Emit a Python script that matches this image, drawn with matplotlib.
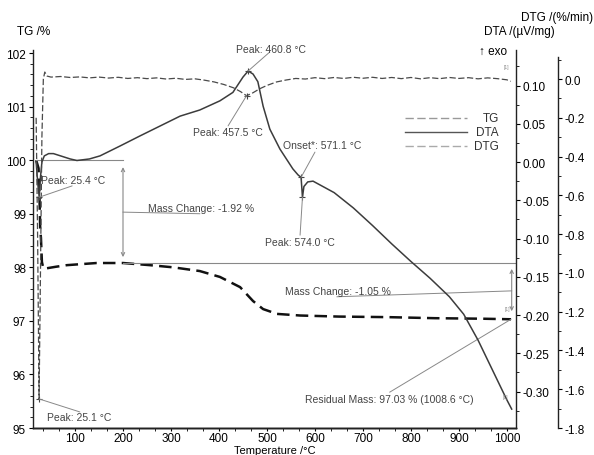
import numpy as np
import matplotlib
matplotlib.use("Agg")
import matplotlib.pyplot as plt
from matplotlib.ticker import MultipleLocator, AutoMinorLocator, FormatStrFormatter
from matplotlib.lines import Line2D

plt.rcParams['font.family'] = ['Liberation Sans', 'DejaVu Sans']
plt.rcParams['axes.unicode_minus'] = False

# TG (mass %) vs temperature
tg_t = [19, 24, 26, 27.5, 29, 31, 34, 40, 60, 83, 145, 200, 256, 304, 360, 402, 444,
        471, 492, 521, 569, 650, 750, 850, 950, 1008.6]
tg_v = [100.0, 99.85, 99.3, 98.7, 98.55, 98.1, 97.98, 97.98, 98.01, 98.04, 98.08, 98.08,
        98.04, 98.0, 97.93, 97.82, 97.63, 97.37, 97.22, 97.13, 97.10, 97.08, 97.07,
        97.05, 97.04, 97.03]

# DTA (uV/mg)
dta_t = [19, 22, 25.4, 28, 31, 36, 45, 55, 70, 90, 104, 130, 152, 194, 235, 277, 319,
         360, 402, 429, 450, 460.8, 471, 481, 492, 506, 527, 554, 565, 571.1, 574, 577,
         585, 596, 640, 680, 720, 760, 800, 840, 880, 910, 940, 970, 1000, 1010]
dta_v = [0.000, -0.025, -0.046, -0.020, 0.000, 0.008, 0.011, 0.011, 0.008, 0.004, 0.002,
         0.004, 0.008, 0.021, 0.034, 0.047, 0.060, 0.068, 0.080, 0.091, 0.111, 0.119,
         0.115, 0.105, 0.073, 0.043, 0.017, -0.009, -0.017, -0.020, -0.046, -0.032,
         -0.026, -0.025, -0.040, -0.060, -0.083, -0.107, -0.130, -0.152, -0.176, -0.199,
         -0.233, -0.272, -0.311, -0.323]

# DTG (%/min)
dtg_t = [19, 22, 25.1, 28, 31, 34, 37, 42, 50, 70, 90, 110, 130, 150, 170, 190, 210, 230,
         250, 270, 290, 310, 330, 350, 370, 390, 410, 430, 445, 457.5, 470, 485, 500, 520,
         540, 560, 580, 600, 620, 640, 660, 680, 700, 720, 740, 760, 780, 800, 820, 840,
         860, 880, 900, 920, 940, 960, 980, 1000, 1008]
dtg_v = [-0.20, -0.80, -1.65, -1.00, -0.30, 0.00, 0.036, 0.015, 0.010, 0.013, 0.008, 0.011,
         0.006, 0.010, 0.005, 0.009, 0.003, 0.007, 0.002, 0.006, 0.000, 0.004, -0.002,
         0.001, -0.006, -0.015, -0.028, -0.045, -0.065, -0.086, -0.072, -0.050, -0.033,
         -0.015, -0.005, 0.003, 0.000, 0.007, 0.002, 0.008, 0.003, 0.009, 0.004, 0.009,
         0.003, 0.008, 0.002, 0.008, 0.001, 0.007, 0.002, 0.008, 0.003, 0.007, 0.001,
         0.006, 0.002, -0.004, -0.012]

mass_start = 100.0
mass_step1 = 98.08
step1_t = 200
step2_t = 1010
residual = 97.03
residual_t = 1008.6

light = "#888888"

fig = plt.figure(figsize=(5.94, 4.56), dpi=100)
ax = fig.add_axes([0.0556, 0.0592, 0.8131, 0.8289])
ax2 = ax.twinx()
ax3 = ax.twinx()

ax.plot(tg_t, tg_v, color="#111111", lw=1.8, ls=(0, (5, 2.5)))
ax2.plot(dta_t, dta_v, color="#3c3c3c", lw=1.1)
ax3.plot(dtg_t, dtg_v, color="#4a4a4a", lw=0.9, ls=(0, (5, 2)))

ax.set_xlim(12.5, 1019)
ax.set_ylim(95, 102.056)
ax2.set_ylim(-0.3477, 0.1464)
ax3.set_ylim(-1.8, 0.1496)

for a in (ax, ax2, ax3):
    a.spines['top'].set_visible(False)
    for s in a.spines.values():
        s.set_linewidth(1.0)
        s.set_color("#222222")
ax2.spines['left'].set_visible(False)
ax3.spines['left'].set_visible(False)
ax.spines['right'].set_visible(False)
ax3.spines['right'].set_position(('outward', 30.2))
ax3.spines['right'].set_bounds(-1.8, 0.113)

ax.xaxis.set_major_locator(MultipleLocator(100))
ax.xaxis.set_minor_locator(AutoMinorLocator(3))
ax.yaxis.set_major_locator(MultipleLocator(1))
ax.yaxis.set_minor_locator(AutoMinorLocator(5))
ax2.yaxis.set_major_locator(MultipleLocator(0.05))
ax2.yaxis.set_minor_locator(AutoMinorLocator(2))
ax2.yaxis.set_major_formatter(FormatStrFormatter('%.2f'))
ax3.yaxis.set_major_locator(MultipleLocator(0.2))
ax3.yaxis.set_minor_locator(AutoMinorLocator(2))
ax3.yaxis.set_major_formatter(FormatStrFormatter('%.1f'))

ax.tick_params(axis='both', which='major', direction='out', length=3, labelsize=8.5, pad=2)
ax.tick_params(axis='x', which='major', length=2.5, pad=0.5)
ax.tick_params(axis='both', which='minor', direction='out', length=2)
for a in (ax2, ax3):
    a.tick_params(axis='y', which='major', direction='out', length=3, labelsize=8.5, pad=2)
    a.tick_params(axis='y', which='minor', direction='out', length=2)

fig.text(0.0286, 0.93, "TG /%", fontsize=8.5, va='center')
fig.text(0.815, 0.93, "DTA /(\u00b5V/mg)", fontsize=8.5, va='center')
fig.text(0.998, 0.96, "DTG /(%/min)", fontsize=8.5, va='center', ha='right')
fig.text(0.854, 0.886, "\u2191 exo", fontsize=8.5, va='center', ha='right')
fig.text(0.463, 0.0, "Temperature /\u00b0C", fontsize=8, ha='center', va='bottom')

# legend drawn by hand so the labels are right aligned
leg = [("TG", "#999999", (0, (6, 2.5))), ("DTA", "#555555", '-'), ("DTG", "#aaaaaa", (0, (6, 2.5)))]
for i, (name, c, ls) in enumerate(leg):
    yy = 0.820 - i * 0.037
    ax3.add_line(Line2D([0.770, 0.899], [yy, yy], transform=ax3.transAxes, color=c, ls=ls, lw=1.0))
    ax3.text(0.965, yy, name, transform=ax3.transAxes, ha='right', va='center', fontsize=8.5, color="#333333")


def lead(src, x, y, tx, ty):
    ax3.annotate("", xy=(x, y), xycoords=src.transData, xytext=(tx, ty), textcoords=ax.transData,
                 arrowprops=dict(arrowstyle='-', color=light, lw=0.7, shrinkA=0, shrinkB=0))


def mark(src, x, y):
    src.plot([x], [y], marker='+', color="#444444", ms=5, mew=0.8)


def note(x, y, s):
    ax3.text(x, y, s, transform=ax.transData, fontsize=7.5, color="#444444", va='center')


# DTA peaks / onset
p1 = 460.8
mark(ax2, p1, np.interp(p1, dta_t, dta_v))
lead(ax2, p1, np.interp(p1, dta_t, dta_v), 506, 102.02)
note(435, 102.07, "Peak: 460.8 \u00b0C")

p2 = 25.4
mark(ax2, p2, np.interp(p2, dta_t, dta_v))
lead(ax2, p2, np.interp(p2, dta_t, dta_v), 94, 99.52)
note(29, 99.63, "Peak: 25.4 \u00b0C")

p3 = 571.1
mark(ax2, p3, np.interp(p3, dta_t, dta_v))
lead(ax2, p3, np.interp(p3, dta_t, dta_v), 600, 100.15)
note(533, 100.28, "Onset*: 571.1 \u00b0C")

p4 = 574.0
mark(ax2, p4, np.interp(p4, dta_t, dta_v))
lead(ax2, p4, np.interp(p4, dta_t, dta_v), 569, 98.6)
note(496, 98.47, "Peak: 574.0 \u00b0C")

# DTG peaks
p5 = 457.5
mark(ax3, p5, np.interp(p5, dtg_t, dtg_v))
lead(ax3, p5, np.interp(p5, dtg_t, dtg_v), 419, 100.64)
note(346, 100.53, "Peak: 457.5 \u00b0C")

p6 = 25.1
mark(ax3, p6, np.interp(p6, dtg_t, dtg_v))
lead(ax3, p6, np.interp(p6, dtg_t, dtg_v), 110, 95.3)
note(41.7, 95.2, "Peak: 25.1 \u00b0C")

# mass change steps
ax.plot([19, step1_t], [mass_start, mass_start], color=light, lw=0.8)
ax.plot([step1_t, 1019], [mass_step1, mass_step1], color=light, lw=0.8)
ax.annotate("", xy=(step1_t, 99.87), xytext=(step1_t, 98.19),
            arrowprops=dict(arrowstyle='<->', color=light, lw=0.8, mutation_scale=6, shrinkA=0, shrinkB=0))
ax.plot([step1_t, 360], [99.03, 99.0], color=light, lw=0.7)
note(252, 99.11, "Mass Change: -1.92 %")

ax.annotate("", xy=(step2_t, 97.97), xytext=(step2_t, 97.18),
            arrowprops=dict(arrowstyle='<->', color=light, lw=0.8, mutation_scale=6, shrinkA=0, shrinkB=0))
ax.plot([646, step2_t], [97.45, 97.56], color=light, lw=0.7)
note(537.5, 97.56, "Mass Change: -1.05 %")

ax.plot([756, residual_t], [95.67, residual], color=light, lw=0.7)
note(579, 95.54, "Residual Mass: 97.03 % (1008.6 \u00b0C)")

for x, y in [(998, 101.74), (1000, 97.24), (996, 95.58)]:
    ax3.text(x, y, "[1]", transform=ax.transData, fontsize=3.5, color=light, ha='center', va='center')

plt.savefig("out.png", dpi=100)
